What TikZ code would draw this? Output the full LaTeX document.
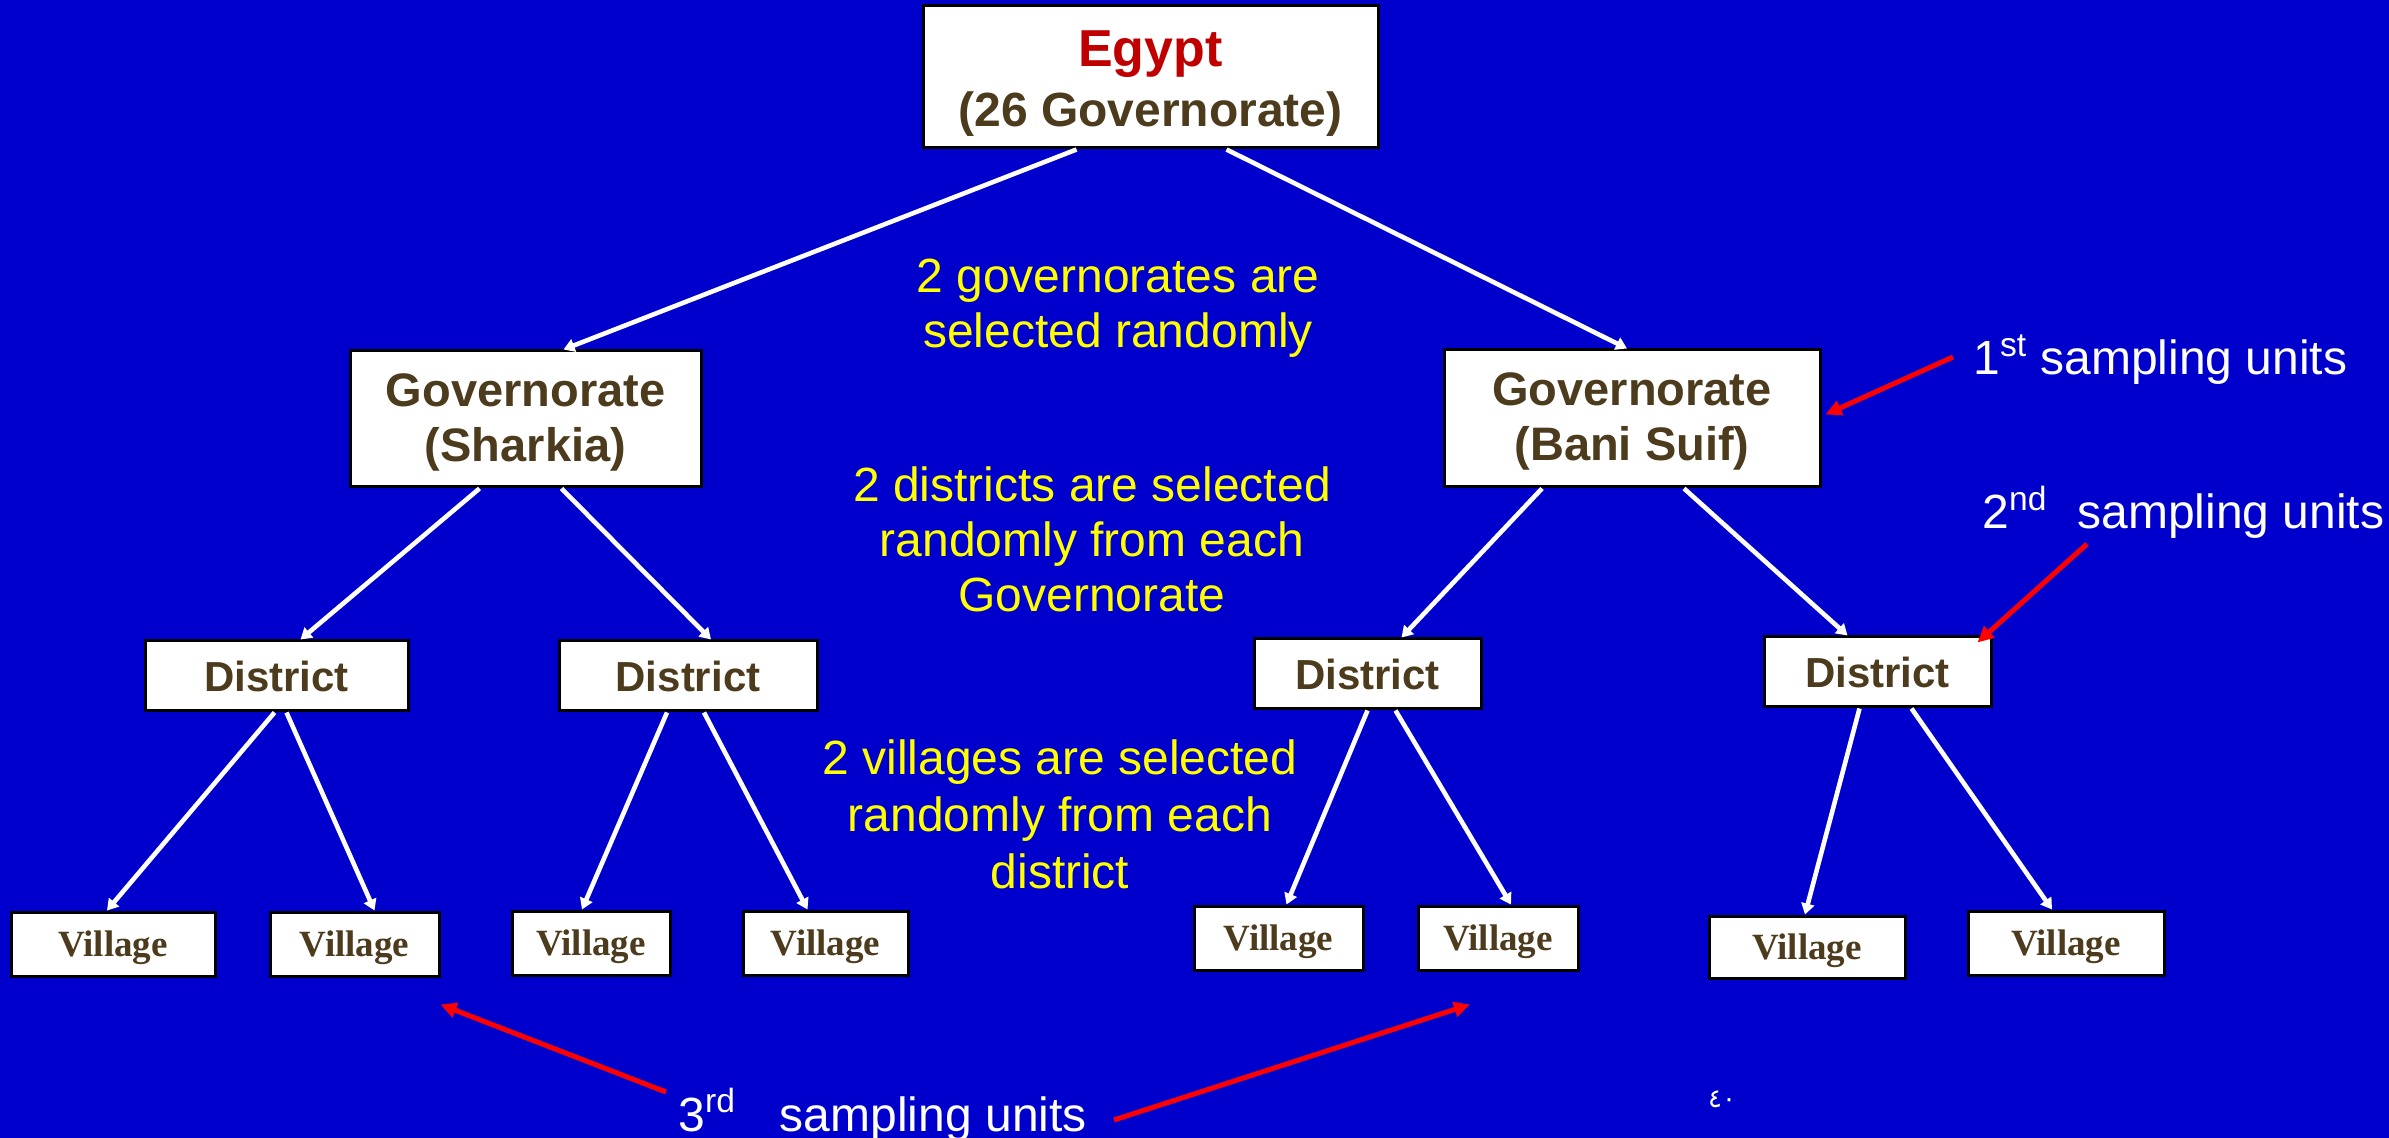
\documentclass[tikz,border=0pt]{standalone}
\usepackage{fontspec}
\setmainfont{Liberation Sans}
\newfontfamily\timesfont{Liberation Serif}
\newfontfamily\arabicfont[Script=Arabic]{DejaVu Sans}
\usetikzlibrary{arrows.meta}
\definecolor{bgblue}{RGB}{0,0,204}
\definecolor{boxbrown}{RGB}{77,59,29}
\definecolor{egyptred}{RGB}{192,0,0}
\definecolor{hiyellow}{RGB}{255,255,0}
\definecolor{arrred}{RGB}{255,0,0}
\newcommand{\vilstrut}{\rule{0pt}{16.6pt}}
\newcommand{\govstrut}{\rule{0pt}{19.8pt}}
\tikzset{
 box/.style={draw=black, line width=1.5pt, fill=white, inner sep=0pt, align=center, text=boxbrown},
 govbox/.style={box, font=\fontsize{23.5}{27.5}\selectfont\bfseries},
 distbox/.style={box, minimum height=35pt, font=\fontsize{21}{24}\selectfont\bfseries},
 villbox/.style={box, minimum height=32pt, font=\timesfont\fontsize{18.5}{22}\selectfont\bfseries},
 link/.style={draw=white, line width=2.3pt, -{Triangle[length=5.5pt,width=6.5pt]}},
 pointer/.style={draw=arrred, line width=2.5pt, -{Triangle[length=8pt,width=7.5pt]}},
 note/.style={text=hiyellow, align=center, font=\fontsize{24}{27.5}\selectfont},
 unitlabel/.style={text=white, anchor=base west, inner sep=0pt, font=\fontsize{24}{28}\selectfont},
}
\begin{document}
\begin{tikzpicture}[x=0.5pt,y=-0.5pt]
\useasboundingbox (0,0) rectangle (2389,1138);
\fill[bgblue] (0,0) rectangle (2389,1138);

% boxes
\node[box, minimum width=227.5pt, minimum height=71pt, font=\fontsize{24}{30}\selectfont\bfseries] (egypt) at (1150.5,77)
  {{\color{egyptred}\fontsize{26}{30}\selectfont\rule{0pt}{24pt}Egypt}\\(26 Governorate)};
\node[govbox, minimum width=175.5pt, minimum height=68pt] (shar) at (525.5,419) {\govstrut Governorate\\(Sharkia)};
\node[govbox, minimum width=188pt, minimum height=68.5pt] (bani) at (1632,418.5) {\govstrut Governorate\\(Bani Suif)};

\node[distbox, minimum width=131.5pt] (d1) at (276.5,676) {District};
\node[distbox, minimum width=129pt] (d2) at (688,676) {District};
\node[distbox, minimum width=113.5pt] (d3) at (1367.5,674) {District};
\node[distbox, minimum width=113.5pt] (d4) at (1877.5,672) {District};

\node[villbox, minimum width=102pt] (v1) at (113,944) {\vilstrut Village};
\node[villbox, minimum width=84.5pt] (v2) at (354.5,944) {\vilstrut Village};
\node[villbox, minimum width=79pt] (v3) at (591,943) {\vilstrut Village};
\node[villbox, minimum width=82.5pt] (v4) at (825.5,943) {\vilstrut Village};
\node[villbox, minimum width=84.5pt] (v5) at (1278.5,938) {\vilstrut Village};
\node[villbox, minimum width=80pt] (v6) at (1498,938) {\vilstrut Village};
\node[villbox, minimum width=98pt, minimum height=31pt] (v7) at (1807,947) {\vilstrut Village};
\node[villbox, minimum width=98pt] (v8) at (2066,943) {\vilstrut Village};

% white links
\draw[link] ([xshift=-37pt]egypt.south) -- ([xshift=19pt]shar.north);
\draw[link] ([xshift=38pt]egypt.south) -- ([xshift=-2.5pt]bani.north);
\draw[link] ([xshift=-23pt]shar.south) -- ([xshift=12pt]d1.north);
\draw[link] ([xshift=18pt]shar.south) -- ([xshift=11.5pt]d2.north);
\draw[link] ([xshift=-45pt]bani.south) -- ([xshift=17pt]d3.north);
\draw[link] ([xshift=26pt]bani.south) -- ([xshift=-15pt]d4.north);
\draw[link] ([xshift=-1pt]d1.south) -- ([xshift=-3pt]v1.north);
\draw[link] ([xshift=5pt]d1.south) -- ([xshift=10pt]v2.north);
\draw[link] ([xshift=-10.5pt]d2.south) -- ([xshift=-4.5pt]v3.north);
\draw[link] ([xshift=8pt]d2.south) -- ([xshift=-9pt]v4.north);
\draw[link] (d3.south) -- ([xshift=4pt]v5.north);
\draw[link] ([xshift=14pt]d3.south) -- ([xshift=6.5pt]v6.north);
\draw[link] ([xshift=-9pt]d4.south) -- ([xshift=-1pt]v7.north);
\draw[link] ([xshift=17pt]d4.south) -- ([xshift=-7pt]v8.north);

% yellow notes
\node[note] (n1) at (1118,308) {2 governorates are\\selected randomly};
\node[note] (n2) at (1092,539) {2 districts are selected\\randomly from each\\Governorate};
\node[note, font=\fontsize{24}{28.5}\selectfont] (n3) at (1060,814) {2 villages are selected\\randomly from each\\district};

% sampling unit labels
\node[unitlabel] (u1) at (1973,375) {1\textsuperscript{st} sampling units};
\node[unitlabel] (u2) at (1982,529) {2\textsuperscript{nd}\hspace{15pt}sampling units};
\node[unitlabel] (u3) at (678,1131) {3\textsuperscript{rd}\hspace{22pt}sampling units};

% red pointers
\coordinate (t1) at (1953,357);
\coordinate (t2) at (2087,544);
\coordinate (t3a) at (666,1092);
\coordinate (t3b) at (1114,1120);
\draw[pointer] (t1) -- ([xshift=2pt,yshift=2pt]bani.east);
\draw[pointer] (t2) -- ([xshift=-7.5pt,yshift=-3.5pt]d4.north east);
\draw[pointer] (t3a) -- ([yshift=-13.5pt]v2.south east);
\draw[pointer] (t3b) -- ([xshift=-14pt,yshift=-16.5pt]v6.south);

% page number
\node[text=white, inner sep=0pt, font=\arabicfont\fontsize{13}{15}\selectfont] (pg) at (1722,1099) {٤٠};
\end{tikzpicture}
\end{document}
